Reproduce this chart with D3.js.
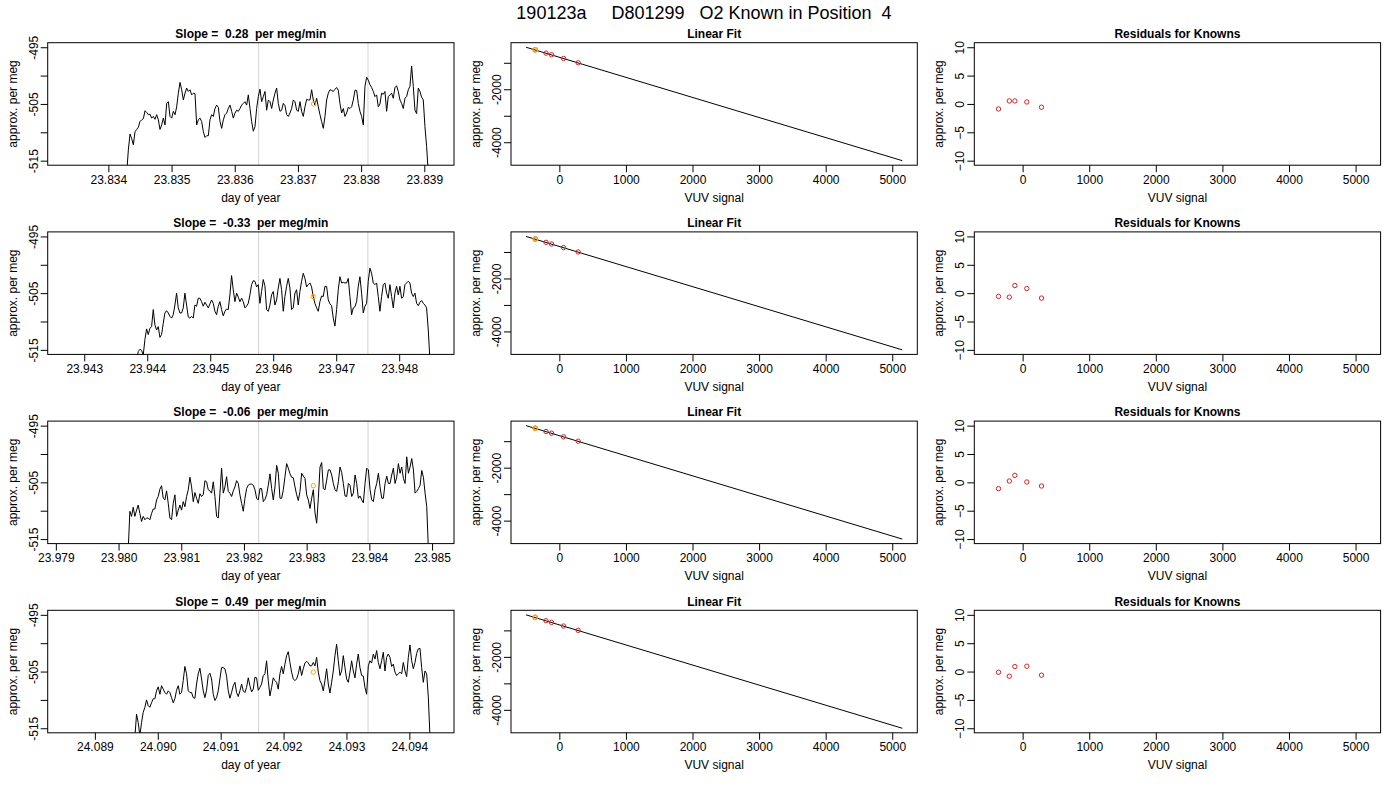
<!DOCTYPE html>
<html>
<head>
<meta charset="utf-8">
<script src="https://cdn.jsdelivr.net/npm/d3@7"></script>
<style>
  body { margin: 0; background: #fff; }
  svg { font-family: "Liberation Sans", Arial, Helvetica, sans-serif; }
</style>
</head>
<body>
<div id="chart"></div>
<script>
// ---------------- data ----------------
var mainTitle = "190123a     D801299   O2 Known in Position  4";
var slopes = ["0.28", "-0.33", "-0.06", "0.49"];

// sample time of first visible point and the sampling interval (day of year)
var dayStart = [23.834290, 23.943831, 23.980154, 24.089636];
var dayStep = [2.637e-5, 2.646e-5, 2.660e-5, 2.651e-5];
// x range shown on each time panel
var dayRange = [[23.83304, 23.83947], [23.94242, 23.94887], [23.97887, 23.98535], [24.08825, 24.09471]];

var perMeg1 = [
  -517.2, -513.1, -510.3, -511.1, -512.2, -509.9, -509.5, -509.1, -508.1, -507.8,
  -507.6, -506.2, -506.5, -506.9, -506.8, -507.5, -507.2, -507.7, -506.9, -507.8,
  -509.5, -508.7, -507.5, -508.7, -504.9, -504.6, -507.2, -507.5, -506.3, -506.9,
  -505.5, -503.1, -501.2, -502.5, -504.3, -503.1, -502.2, -502.8, -502.5, -503.4,
  -503.1, -503.2, -508.7, -507.8, -507.5, -508.1, -509.9, -510.9, -510.6, -510.6,
  -507.8, -506.9, -507.2, -505.8, -505.2, -505.6, -508.1, -509.3, -507.8, -506.9,
  -506.6, -505.8, -505.2, -506.3, -507.5, -506.6, -506.1, -506.3, -505.8, -505.2,
  -504.9, -504.6, -505.2, -503.4, -505.8, -508.1, -509.8, -509.0, -505.8, -503.7,
  -502.4, -504.6, -503.7, -502.8, -506.1, -504.3, -504.6, -505.8, -504.3, -503.1,
  -502.2, -504.9, -506.3, -506.1, -504.9, -505.3, -506.9, -507.2, -506.6, -505.8,
  -504.3, -504.6, -506.1, -506.3, -504.6, -506.3, -507.2, -505.5, -504.2, -504.3,
  -504.3, -502.5, -504.3, -505.2, -504.0, -505.5, -506.9, -508.1, -509.3, -507.2,
  -504.3, -503.1, -502.5, -502.6, -502.8, -502.4, -502.1, -502.6, -504.9, -506.6,
  -505.8, -507.2, -506.6, -505.6, -505.8, -505.5, -504.3, -502.6, -502.6, -504.9,
  -506.3, -507.2, -508.7, -501.9, -500.3, -500.8, -501.6, -502.1, -502.8, -503.7,
  -503.4, -505.5, -505.0, -503.1, -503.3, -502.8, -506.3, -503.7, -503.4, -503.1,
  -504.0, -502.1, -501.8, -502.8, -504.3, -504.9, -505.8, -504.0, -503.7, -502.5,
  -501.9, -498.3, -501.9, -506.1, -506.7, -502.2, -502.8, -503.8, -504.3, -509.0,
  -512.5, -517.2
];
var perMeg2 = [
  -517.0, -515.3, -514.9, -515.1, -515.9, -513.2, -511.3, -512.3, -511.2, -510.9,
  -507.9, -510.6, -511.5, -510.9, -512.8, -512.3, -510.3, -508.5, -508.1, -508.5,
  -509.1, -509.4, -508.8, -507.1, -505.0, -507.6, -508.5, -508.5, -507.6, -505.0,
  -507.1, -509.2, -509.4, -509.1, -509.4, -507.1, -507.3, -505.9, -505.9, -506.5,
  -507.3, -506.6, -507.1, -507.6, -506.9, -506.2, -506.8, -508.2, -508.8, -507.3,
  -506.5, -507.9, -509.0, -508.2, -507.8, -507.9, -505.3, -501.9, -504.4, -506.5,
  -505.0, -505.7, -506.5, -505.9, -506.5, -507.6, -507.3, -506.8, -505.3, -503.5,
  -502.8, -502.9, -503.9, -503.5, -506.8, -504.7, -502.6, -503.7, -507.9, -508.2,
  -507.1, -505.3, -504.7, -507.1, -506.2, -504.1, -502.4, -504.4, -508.2, -505.6,
  -503.8, -502.4, -504.1, -507.9, -507.6, -505.0, -504.4, -507.1, -504.7, -502.9,
  -501.5, -502.4, -503.9, -503.5, -503.2, -503.9, -505.6, -506.8, -507.6, -508.2,
  -506.5, -505.5, -505.6, -503.8, -503.8, -506.2, -506.9, -507.2, -509.4, -510.8,
  -507.9, -504.4, -502.1, -503.2, -503.1, -503.2, -503.2, -502.4, -505.6, -508.8,
  -507.6, -507.4, -506.5, -503.8, -502.1, -505.0, -508.5, -507.3, -506.8, -502.9,
  -500.6, -501.5, -503.2, -503.5, -503.2, -505.6, -508.2, -505.6, -503.5, -503.2,
  -505.0, -505.9, -503.5, -505.6, -507.6, -505.0, -503.8, -505.3, -503.8, -505.9,
  -505.6, -503.5, -503.2, -502.9, -503.2, -505.0, -505.6, -505.0, -506.8, -507.2,
  -506.6, -506.3, -506.8, -507.1, -507.6, -511.5, -516.8
];
var perMeg3 = [
  -516.9, -510.1, -511.0, -509.4, -511.0, -509.9, -509.0, -510.5, -511.9, -511.0,
  -511.6, -511.3, -511.3, -511.6, -510.5, -509.7, -509.7, -508.1, -507.5, -506.2,
  -505.6, -507.8, -508.1, -506.5, -508.7, -511.3, -511.6, -508.7, -507.2, -511.0,
  -509.9, -509.0, -509.9, -508.4, -509.3, -507.5, -506.3, -504.1, -505.8, -508.4,
  -506.8, -507.8, -508.7, -507.0, -507.5, -507.2, -504.7, -504.9, -506.3, -506.5,
  -506.9, -504.9, -507.5, -511.0, -511.3, -506.9, -502.5, -506.9, -505.8, -504.0,
  -506.6, -506.9, -507.5, -506.5, -505.8, -504.7, -505.2, -507.2, -508.7, -510.1,
  -507.8, -506.1, -505.5, -505.3, -505.3, -505.5, -506.3, -507.8, -508.1, -506.1,
  -506.1, -508.4, -508.0, -507.2, -505.5, -503.5, -506.1, -508.1, -505.8, -502.0,
  -503.4, -507.8, -507.8, -506.3, -504.0, -501.7, -502.5, -503.5, -504.1, -504.2,
  -505.8, -507.2, -508.2, -506.6, -503.4, -503.9, -504.3, -507.2, -508.1, -509.6,
  -507.8, -506.3, -510.4, -512.2, -507.8, -502.3, -501.5, -506.1, -506.3, -504.6,
  -502.8, -502.8, -503.7, -505.2, -506.3, -506.6, -504.9, -502.3, -503.3, -505.2,
  -507.4, -507.5, -505.2, -505.5, -507.5, -506.9, -503.7, -505.2, -507.8, -507.4,
  -508.1, -508.6, -505.2, -502.5, -502.8, -506.3, -508.1, -508.4, -506.3, -505.2,
  -503.4, -505.8, -507.8, -507.8, -505.2, -503.9, -505.2, -505.2, -503.7, -502.5,
  -505.2, -504.1, -501.7, -503.4, -502.3, -504.3, -505.2, -500.5, -503.4, -502.3,
  -500.8, -502.8, -506.9, -506.6, -506.1, -505.5, -502.9, -504.1, -506.9, -509.3,
  -516.9
];
var perMeg4 = [
  -516.6, -512.5, -514.0, -516.3, -514.0, -512.2, -511.3, -510.0, -511.0, -511.3,
  -510.5, -509.8, -509.8, -508.4, -507.7, -509.0, -507.5, -508.1, -508.7, -509.0,
  -508.4, -508.7, -509.6, -510.5, -509.8, -508.3, -507.5, -509.0, -508.7, -506.6,
  -504.1, -505.4, -508.4, -508.7, -508.7, -509.6, -509.7, -507.2, -505.4, -504.4,
  -506.3, -508.4, -509.6, -508.3, -505.7, -505.3, -506.3, -509.0, -510.1, -509.6,
  -508.4, -506.3, -504.3, -504.3, -504.5, -505.8, -508.4, -509.7, -508.7, -507.5,
  -506.9, -508.7, -509.4, -508.4, -507.2, -508.4, -508.7, -507.8, -506.1, -507.5,
  -508.6, -508.1, -506.0, -506.1, -508.3, -507.8, -507.2, -505.7, -505.4, -503.1,
  -506.6, -509.3, -507.8, -506.1, -506.6, -506.9, -508.1, -505.4, -504.1, -505.4,
  -503.7, -502.2, -501.5, -503.4, -505.1, -506.3, -506.6, -506.3, -505.4, -504.0,
  -505.7, -504.5, -503.5, -503.2, -503.5, -504.0, -504.0, -503.4, -504.0, -502.5,
  -505.1, -506.6, -507.2, -508.4, -506.6, -504.5, -507.2, -508.8, -506.9, -504.9,
  -502.2, -500.2, -503.1, -505.7, -504.9, -502.2, -504.3, -506.3, -506.9, -505.1,
  -503.1, -504.9, -506.1, -503.7, -501.9, -504.3, -505.7, -505.8, -507.8, -509.0,
  -504.0, -503.1, -503.5, -501.9, -502.8, -501.3, -503.4, -504.5, -503.1, -501.6,
  -504.9, -502.5, -501.9, -502.5, -504.1, -503.7, -505.1, -505.7, -505.4, -505.1,
  -505.4, -503.4, -504.9, -505.9, -502.5, -500.3, -503.1, -504.5, -503.4, -501.8,
  -501.0, -500.9, -504.3, -506.9, -504.9, -505.4, -509.5, -516.6
];
var perMegSeries = [perMeg1, perMeg2, perMeg3, perMeg4];

// grey markers and the orange known on each time panel
var markDays = [[23.836379, 23.838109], [23.945767, 23.947503], [23.982234, 23.983979], [24.091603, 24.093343]];
var knownDay = [23.837249, 23.946635, 23.983106, 24.092473];
var knownDayPerMeg = [-505.0, -505.6, -505.6, -505.1];

var tsYTicks = [-515, -510, -505, -500, -495];
var tsYLabels = [-515, -505, -495];
var tsYLim = [-515, -495];

// linear fit of the knowns
var knownVUV = [-362, -200, -117, 63, 283];
var knownPerMeg = [-509, -635, -698, -836, -1000];
var fitVUV = [-500, 5150];
var fitPerMeg = [-413, -4696];
var vuvTicks = [0, 1000, 2000, 3000, 4000, 5000];
var fitYTicks = [-1000, -2000, -3000, -4000];
var fitYLabels = [-2000, -4000];

// residuals for knowns, one row per panel row
var residuals = [
  [-0.88, 0.53, 0.53, 0.35, -0.58],
  [-0.58, -0.70, 1.34, 0.81, -0.87],
  [-1.11, 0.23, 1.23, 0.06, -0.64],
  [-0.12, -0.82, 0.88, 0.94, -0.64]
];
var residTicks = [-10, -5, 0, 5, 10];
var residLim = [-10, 10];

// ---------------- layout ----------------
var W = 1400, H = 800;
var colLeft = [47.7, 511, 974.3], plotW = 406.3;
var rowTop = [42.7, 231.9, 421.1, 610.3], plotH = 122.5;
var tickLen = 7;

var svg = d3.select("#chart").append("svg")
  .attr("width", W).attr("height", H);

svg.append("text")
  .attr("x", 704).attr("y", 18.5)
  .attr("text-anchor", "middle")
  .attr("font-size", 18)
  .style("white-space", "pre")
  .text(mainTitle);

// R style 4% axis extension
function pad(r) {
  var e = (r[1] - r[0]) * 0.04;
  return [r[0] - e, r[1] + e];
}

function styleAxis(a) {
  a.attr("font-size", 12).attr("font-family", null);
  a.select(".domain").remove();
  a.selectAll("line").attr("stroke", "#000");
  a.selectAll("text").attr("fill", "#000");
}

function bottomAxis(g, x, ticks, fmt) {
  var a = g.append("g").attr("transform", "translate(0," + plotH + ")")
    .call(d3.axisBottom(x).tickValues(ticks).tickFormat(fmt).tickSize(tickLen).tickPadding(3));
  styleAxis(a);
}

function leftAxis(g, y, ticks, fmt) {
  var a = g.append("g")
    .call(d3.axisLeft(y).tickValues(ticks).tickFormat(fmt).tickSize(tickLen));
  styleAxis(a);
  a.selectAll("text")
    .attr("x", 0).attr("y", -10).attr("dy", null)
    .attr("transform", "rotate(-90)")
    .attr("text-anchor", "middle");
}

function frame(g, title, xlab) {
  g.append("rect").attr("width", plotW).attr("height", plotH)
    .attr("fill", "none").attr("stroke", "#000");
  g.append("text").attr("x", plotW / 2).attr("y", -4.7)
    .attr("text-anchor", "middle").attr("font-size", 12).attr("font-weight", "bold")
    .style("white-space", "pre")
    .text(title);
  g.append("text").attr("x", plotW / 2).attr("y", plotH + 36.5)
    .attr("text-anchor", "middle").attr("font-size", 12)
    .text(xlab);
  g.append("text").attr("transform", "translate(-31," + (plotH / 2) + ")rotate(-90)")
    .attr("text-anchor", "middle").attr("font-size", 12)
    .text("approx. per meg");
}

function blankExcept(keep) {
  return function(d) { return keep.indexOf(d) >= 0 ? d : ""; };
}

perMegSeries.forEach(function(series, r) {

  // ---- time series panel ----
  var g = svg.append("g").attr("transform", "translate(" + colLeft[0] + "," + rowTop[r] + ")");
  var x = d3.scaleLinear().domain(dayRange[r]).range([0, plotW]);
  var y = d3.scaleLinear().domain(pad(tsYLim)).range([plotH, 0]);

  var clipId = "clip" + r;
  g.append("clipPath").attr("id", clipId)
    .append("rect").attr("width", plotW).attr("height", plotH);

  var days = series.map(function(v, i) { return dayStart[r] + i * dayStep[r]; });
  var dayTicks = d3.range(Math.ceil(dayRange[r][0] * 1000), Math.floor(dayRange[r][1] * 1000) + 1)
    .map(function(k) { return k / 1000; });

  g.selectAll(".mark").data(markDays[r]).enter().append("line")
    .attr("x1", function(d) { return x(d); }).attr("x2", function(d) { return x(d); })
    .attr("y1", 0).attr("y2", plotH)
    .attr("stroke", "#d3d3d3").attr("stroke-width", 1);

  g.append("path")
    .datum(series)
    .attr("clip-path", "url(#" + clipId + ")")
    .attr("fill", "none").attr("stroke", "#000").attr("stroke-width", 1)
    .attr("d", d3.line().x(function(d, i) { return x(days[i]); }).y(function(d) { return y(d); }));

  g.append("circle")
    .attr("cx", x(knownDay[r])).attr("cy", y(knownDayPerMeg[r])).attr("r", 2.2)
    .attr("fill", "none").attr("stroke", "orange").attr("stroke-width", 1);

  bottomAxis(g, x, dayTicks, d3.format(".3f"));
  leftAxis(g, y, tsYTicks, blankExcept(tsYLabels));
  frame(g, "Slope =  " + slopes[r] + "  per meg/min", "day of year");

  // ---- linear fit panel ----
  var g2 = svg.append("g").attr("transform", "translate(" + colLeft[1] + "," + rowTop[r] + ")");
  var fx = d3.scaleLinear().domain(pad(fitVUV)).range([0, plotW]);
  var fy = d3.scaleLinear().domain(pad([fitPerMeg[1], fitPerMeg[0]])).range([plotH, 0]);

  g2.append("line")
    .attr("x1", fx(fitVUV[0])).attr("y1", fy(fitPerMeg[0]))
    .attr("x2", fx(fitVUV[1])).attr("y2", fy(fitPerMeg[1]))
    .attr("stroke", "#000").attr("stroke-width", 1);

  g2.selectAll(".known").data(knownVUV).enter().append("circle")
    .attr("cx", function(d) { return fx(d); })
    .attr("cy", function(d, i) { return fy(knownPerMeg[i]); })
    .attr("r", 2.2).attr("fill", "none").attr("stroke", "#cd2626").attr("stroke-width", 1);

  g2.append("circle")
    .attr("cx", fx(knownVUV[0])).attr("cy", fy(knownPerMeg[0])).attr("r", 2.2)
    .attr("fill", "none").attr("stroke", "orange").attr("stroke-width", 1.2);

  bottomAxis(g2, fx, vuvTicks, d3.format("d"));
  leftAxis(g2, fy, fitYTicks, blankExcept(fitYLabels));
  frame(g2, "Linear Fit", "VUV signal");

  // ---- residual panel ----
  var g3 = svg.append("g").attr("transform", "translate(" + colLeft[2] + "," + rowTop[r] + ")");
  var ry = d3.scaleLinear().domain(pad(residLim)).range([plotH, 0]);

  g3.selectAll(".res").data(residuals[r]).enter().append("circle")
    .attr("cx", function(d, i) { return fx(knownVUV[i]); })
    .attr("cy", function(d) { return ry(d); })
    .attr("r", 2.2).attr("fill", "none").attr("stroke", "#cd2626").attr("stroke-width", 1);

  bottomAxis(g3, fx, vuvTicks, d3.format("d"));
  leftAxis(g3, ry, residTicks, d3.format("d"));
  frame(g3, "Residuals for Knowns", "VUV signal");
});
</script>
</body>
</html>
